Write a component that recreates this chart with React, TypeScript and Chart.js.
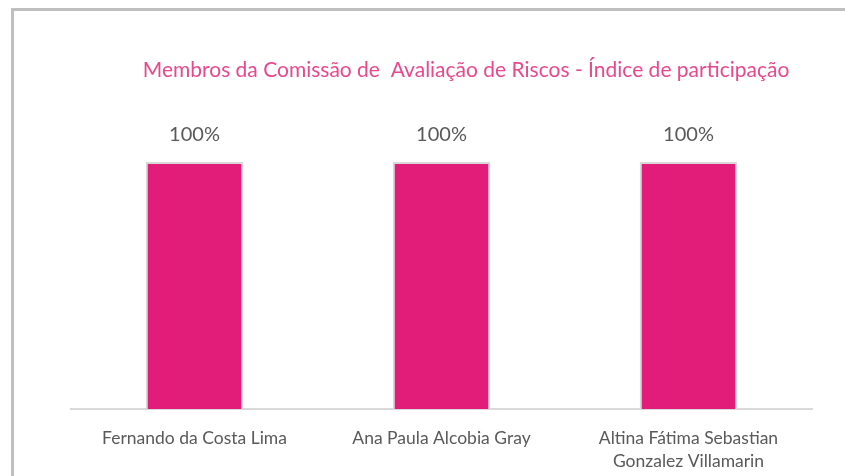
import React, { useEffect, useRef } from "react";
import { Chart, registerables } from "chart.js";

Chart.register(...registerables);

const categories: (string | string[])[] = [
  "Fernando da Costa Lima",
  "Ana Paula Alcobia Gray",
  ["Altina Fátima Sebastian", "Gonzalez Villamarin"],
];
const participation: number[] = [1, 1, 1];
const titleText = "Membros da Comissão de  Avaliação de Riscos - Índice de participação";

const FONT = "Lato, 'Open Sans', sans-serif";

const labelPlugin = {
  id: "customText",
  afterDatasetsDraw(chart: any) {
    const ctx = chart.ctx;
    ctx.save();
    // title
    ctx.fillStyle = "#E8488C";
    ctx.font = `21px ${FONT}`;
    ctx.textAlign = "center";
    ctx.textBaseline = "middle";
    ctx.fillText(titleText, 466, 70);
    // data labels
    const meta = chart.getDatasetMeta(0);
    ctx.fillStyle = "#595959";
    ctx.font = `20px ${FONT}`;
    meta.data.forEach((bar: any, i: number) => {
      const v = chart.data.datasets[0].data[i] as number;
      ctx.fillText(Math.round(v * 100) + "%", bar.x, bar.y - 27);
    });
    ctx.restore();
  },
};

export default function App() {
  const ref = useRef<HTMLCanvasElement>(null);
  useEffect(() => {
    if (!ref.current) return;
    const chart = new Chart(ref.current, {
      type: "bar",
      data: {
        labels: categories,
        datasets: [
          {
            data: participation,
            backgroundColor: "#E21C79",
            borderColor: "#D9D9D9",
            borderWidth: 2,
            barPercentage: 0.395,
            categoryPercentage: 1,
          },
        ],
      },
      options: {
        responsive: false,
        animation: false,
        devicePixelRatio: 1,
        layout: { padding: { left: 71, right: 33, top: 162, bottom: 0 } },
        plugins: {
          legend: { display: false },
          title: { display: false },
          tooltip: { enabled: false },
        },
        scales: {
          x: {
            grid: { display: false, drawTicks: false },
            border: { display: true, color: "#D9D9D9", width: 2 },
            ticks: {
              color: "#595959",
              font: { family: FONT, size: 17.5, lineHeight: 1.32 },
              padding: 18,
              maxRotation: 0,
              autoSkip: false,
            },
            afterFit: (s: any) => {
              s.height = 67;
            },
          },
          y: { display: false, min: 0, max: 1 },
        },
      },
      plugins: [labelPlugin],
    });
    return () => chart.destroy();
  }, []);
  return (
    <div style={{ position: "fixed", left: 0, top: 0, width: 845, height: 476, background: "#fff" }}>
      <canvas ref={ref} width={845} height={476} style={{ position: "absolute", left: 0, top: 0 }} />
      <div
        style={{
          position: "absolute",
          left: 11,
          top: 8,
          width: 845,
          height: 476,
          borderLeft: "3px solid #BFBFBF",
          borderTop: "3px solid #BFBFBF",
          pointerEvents: "none",
        }}
      />
    </div>
  );
}
